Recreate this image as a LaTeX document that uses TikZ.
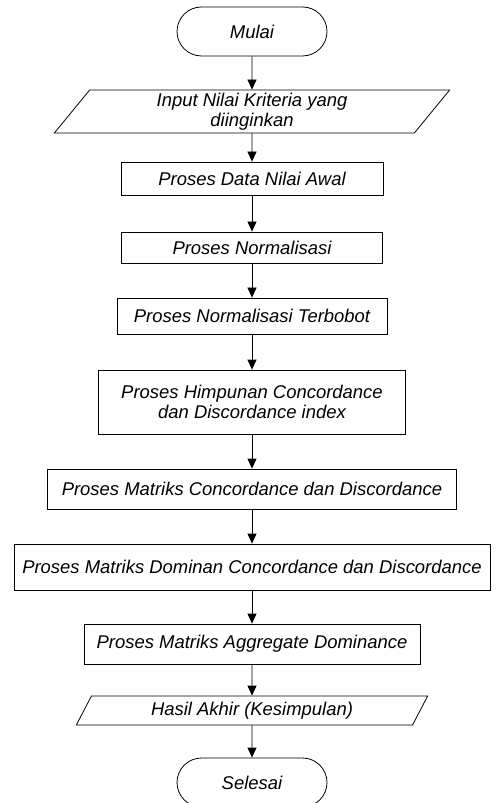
\documentclass[tikz,border=0pt]{standalone}
\usepackage{fontspec}
\setmainfont{Liberation Sans}
\usetikzlibrary{shapes.geometric,arrows.meta}
\begin{document}
\begin{tikzpicture}[font=\fontsize{10.5}{11.5}\selectfont\itshape, line width=0.45pt,
  terminal/.style={draw, rectangle, rounded corners=4.9mm, minimum width=3cm, minimum height=0.98cm},
  proc/.style={draw, rectangle, align=center},
  io/.style={draw, trapezium, trapezium left angle=61, trapezium right angle=119, trapezium stretches=true, inner sep=0pt, align=center},
  arr/.style={-{Triangle[length=2mm,width=1.8mm]}}]
  \useasboundingbox (0,0) rectangle (9.92,-16.06);
  % start and input
  \node[terminal] (mulai) at (5.04,-0.63) {Mulai};
  \node[io, minimum width=7.92cm, minimum height=0.86cm] (input) at (5.04,-2.23) {Input Nilai Kriteria yang\\diinginkan};
  % process steps
  \node[proc, minimum width=5.24cm, minimum height=0.66cm] (data) at (5.04,-3.57) {Proses Data Nilai Awal};
  \node[proc, minimum width=5.22cm, minimum height=0.62cm] (norm) at (5.04,-4.95) {Proses Normalisasi};
  \node[proc, minimum width=5.4cm, minimum height=0.72cm] (bobot) at (5.04,-6.32) {Proses Normalisasi Terbobot};
  \node[proc, minimum width=6.14cm, minimum height=1.28cm] (himp) at (5.04,-8.04) {Proses Himpunan Concordance\\dan Discordance index};
  \node[proc, minimum width=8.18cm, minimum height=0.8cm] (matriks) at (5.04,-9.78) {Proses Matriks Concordance dan Discordance};
  \node[proc, minimum width=9.52cm, minimum height=0.92cm] (dominan) at (5.04,-11.34) {Proses Matriks Dominan Concordance dan Discordance};
  \node[proc, minimum width=6.72cm, minimum height=0.8cm] (aggr) at (5.04,-12.88) {Proses Matriks Aggregate Dominance};
  % output and end
  \node[io, minimum width=7.04cm, minimum height=0.58cm] (hasil) at (5.04,-14.21) {Hasil Akhir (Kesimpulan)};
  \node[terminal] (selesai) at (5.04,-15.65) {Selesai};
  % flow
  \draw[arr] (mulai) -- (input);
  \draw[arr] (input) -- (data);
  \draw[arr] (data) -- (norm);
  \draw[arr] (norm) -- (bobot);
  \draw[arr] (bobot) -- (himp);
  \draw[arr] (himp) -- (matriks);
  \draw[arr] (matriks) -- (dominan);
  \draw[arr] (dominan) -- (aggr);
  \draw[arr] (aggr) -- (hasil);
  \draw[arr] (hasil) -- (selesai);
\end{tikzpicture}
\end{document}
